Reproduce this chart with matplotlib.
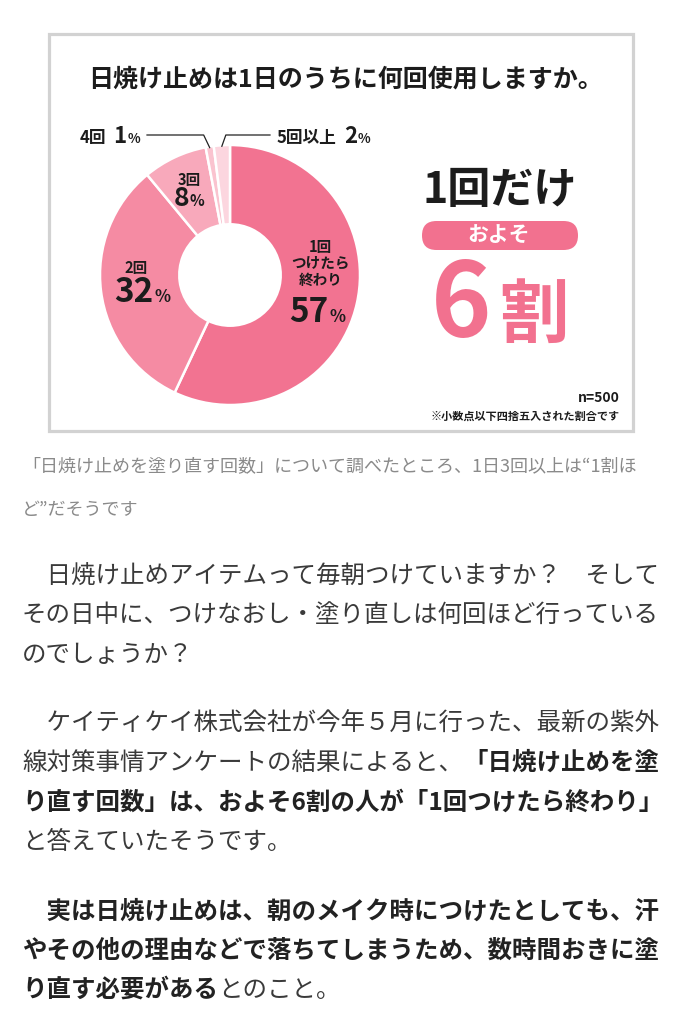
import matplotlib
matplotlib.use('Agg')
import matplotlib.pyplot as plt
from matplotlib.patches import Rectangle, FancyBboxPatch
import numpy as np

plt.rcParams['font.family'] = ['Noto Sans CJK JP', 'DejaVu Sans']

# ---------------- data ----------------
categories = ['1回', '2回', '3回', '4回', '5回以上']
shares = [57, 32, 8, 1, 2]
wedge_colors = ['#f27391', '#f58ba3', '#f8a9bb', '#fac3cf', '#fcd6df']
inside_names = {'1回': ['1回', 'つけたら', '終わり'], '2回': ['2回'], '3回': ['3回']}
outside_cats = ['4回', '5回以上']

title = '日焼け止めは1日のうちに何回使用しますか。'
headline = '1回だけ'
badge = 'およそ'
big_num = '6'
big_unit = '割'
n_label = 'n=500'
note = '※小数点以下四捨五入された割合です'

caption_lines = ['「日焼け止めを塗り直す回数」について調べたところ、1日3回以上は“1割ほ',
                 'ど”だそうです']

body_lines = [
    [('　日焼け止めアイテムって毎朝つけていますか？　そして', False)],
    [('その日中に、つけなおし・塗り直しは何回ほど行っている', False)],
    [('のでしょうか？', False)],
    [('　ケイティケイ株式会社が今年５月に行った、最新の紫外', False)],
    [('線対策事情アンケートの結果によると、', False), ('「日焼け止めを塗', True)],
    [('り直す回数」は、およそ6割の人が「1回つけたら終わり」', True)],
    [('と答えていたそうです。', False)],
    [('　実は日焼け止めは、朝のメイク時につけたとしても、汗', True)],
    [('やその他の理由などで落ちてしまうため、数時間おきに塗', True)],
    [('り直す必要がある', True), ('とのこと。', False)],
]
body_y = [577, 616, 655, 724, 763, 803, 842, 912, 951, 990]

# ---------------- figure ----------------
W, H = 681, 1024
fig = plt.figure(figsize=(W / 100, H / 100), dpi=100)
fig.patch.set_facecolor('white')

PINK = '#f2718f'
DARK = '#1c1c1c'

# ---------------- donut (drawn underneath the text layer) ----------------
cx, cy, R = 230, 275, 130
pax = fig.add_axes([(cx - R) / W, (H - cy - R) / H, 2 * R / W, 2 * R / H])
pax.set_zorder(1)
wedges, _ = pax.pie(shares, colors=wedge_colors, startangle=90, counterclock=False,
                    radius=1.0, wedgeprops=dict(width=0.61, edgecolor='white', linewidth=1.8))
pax.set_xlim(-1, 1)
pax.set_ylim(-1, 1)
pax.axis('off')

# text / annotation layer in pixel coordinates
ax = fig.add_axes([0, 0, 1, 1])
ax.set_zorder(2)
ax.set_xlim(0, W)
ax.set_ylim(H, 0)
ax.axis('off')
renderer = fig.canvas.get_renderer()

# chart frame
ax.add_patch(Rectangle((49, 34), 584, 397, facecolor='none', edgecolor='#d2d2d2', lw=2.3, zorder=0))

ax.text(345, 80, title, fontsize=18, fontweight='bold', color=DARK, ha='center', va='center')


def runs(x, y, pieces, ha='center'):
    """pieces: (text, size, color, gap_after). baseline aligned."""
    objs, widths = [], []
    for s, size, color, gap in pieces:
        t = ax.text(0, y, s, fontsize=size, color=color, fontweight='bold', ha='left', va='baseline')
        w = t.get_window_extent(renderer).width
        objs.append(t)
        widths.append(w + gap)
    total = sum(widths)
    start = x - total / 2 if ha == 'center' else (x - total if ha == 'right' else x)
    for t, w in zip(objs, widths):
        t.set_x(start)
        start += w


def to_px(xy):
    disp = pax.transData.transform(xy)
    return ax.transData.inverted().transform(disp)


mids = {}
for cat, w in zip(categories, wedges):
    mids[cat] = np.deg2rad((w.theta1 + w.theta2) / 2)

# inside labels: (radius, dy, name size, number size, pct size, name offset, number offset, name dx)
label_style = {'1回': (0.69, 0, 10.5, 24, 12, 15, 27, 3),
               '2回': (0.68, -9, 10.5, 24, 12, 9, 25, -6),
               '3回': (0.74, 0, 10.5, 19, 11, 8, 18, 0)}
for cat, val in zip(categories, shares):
    if cat not in inside_names:
        continue
    r, dy, nsz, vsz, psz, nmoff, noff, ndx = label_style[cat]
    a = mids[cat]
    px, py = to_px((r * np.cos(a), r * np.sin(a)))
    py += dy
    names = inside_names[cat]
    lh = 16.5
    for i, nm in enumerate(names[::-1]):
        ax.text(px + ndx, py - nmoff - i * lh, nm, fontsize=nsz, fontweight='bold', color=DARK,
                ha='center', va='center')
    runs(px, py + noff, [(str(val), vsz, DARK, 1), ('%', psz, DARK, 0)])

# outside labels with leader lines
vals = dict(zip(categories, shares))
for cat in outside_cats:
    a = mids[cat]
    wx, wy = to_px((1.0 * np.cos(a), 1.0 * np.sin(a)))
    ly = 135
    if cat == '4回':
        ex = wx - 6
        ax.plot([wx, ex, 147], [wy + 1, ly, ly], color='#222222', lw=0.9)
        runs(140, 143, [(cat, 12, DARK, 7), (str(vals[cat]), 16, DARK, 1), ('%', 9.5, DARK, 0)], ha='right')
    else:
        ex = wx + 4
        ax.plot([wx, ex, 270], [wy + 1, ly, ly], color='#222222', lw=0.9)
        runs(277, 143, [(cat, 12, DARK, 7), (str(vals[cat]), 16, DARK, 1), ('%', 9.5, DARK, 0)], ha='left')

# ---------------- right side ----------------
ax.text(500, 190, headline, fontsize=31, fontweight='bold', color=DARK, ha='center', va='center')
ax.add_patch(FancyBboxPatch((422, 221), 156, 29, boxstyle='round,pad=0,rounding_size=14.5',
                            facecolor=PINK, edgecolor='none'))
ax.text(499, 235.5, badge, fontsize=15, fontweight='bold', color='white', ha='center', va='center')
runs(500, 337, [(big_num, 74, PINK, 8), (big_unit, 50, PINK, 0)])

ax.text(620, 398, n_label, fontsize=10, fontweight='bold', color=DARK, ha='right', va='center')
ax.text(620, 416, note, fontsize=8, fontweight='bold', color=DARK, ha='right', va='center')

# ---------------- article text ----------------
for i, line in enumerate(caption_lines):
    ax.text(22, [466, 510][i], line, fontsize=13, color='#8a8a8a', ha='left', va='center')

EM = 24.5
FS = EM * 0.72


def text_width(s):
    return sum(EM if ord(c) > 0x2000 else 0.56 * EM for c in s)


for line, y in zip(body_lines, body_y):
    x = 22
    for s, bold in line:
        ax.text(x, y, s, fontsize=FS, fontweight='bold' if bold else 'normal',
                color='#222222' if bold else '#3a3a3a', ha='left', va='center')
        x += text_width(s)

fig.savefig('out.png', dpi=100, facecolor='white')
